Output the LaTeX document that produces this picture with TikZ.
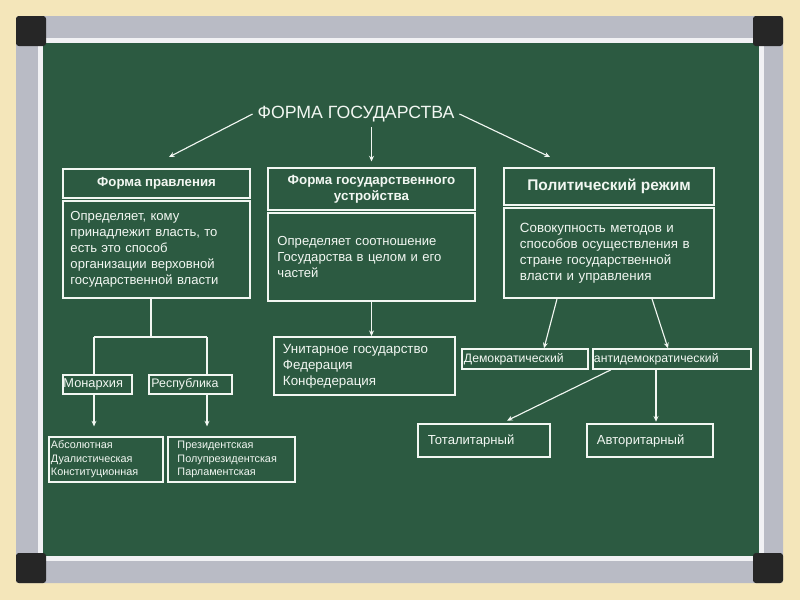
\documentclass[tikz,border=0pt]{standalone}
\usepackage{fontspec}
\setmainfont{Liberation Sans}
\usetikzlibrary{arrows.meta}
\definecolor{board}{HTML}{2C5A41}
\definecolor{cream}{HTML}{F4E6BA}
\definecolor{alu}{HTML}{B9BBC5}
\definecolor{chalk}{HTML}{F2F7F2}

\begin{document}
\begin{tikzpicture}[x=.025cm, y=-.025cm,
	bx/.style={draw=chalk, fill=board, line width=1.3pt, inner sep=0pt, text=chalk, align=left, font=\fontsize{9.3}{11.3}\selectfont},
	hd/.style={bx, align=center, font=\fontsize{9.4}{11.3}\selectfont\bfseries},
	sm/.style={bx, line width=1.1pt, font=\fontsize{7.7}{9.6}\selectfont},
	arr/.style={draw=chalk, line width=.8pt, -{Stealth[length=4pt, width=3.5pt]}},
	ln/.style={draw=chalk, line width=.8pt}]
	% board
	\useasboundingbox (0,0) rectangle (800,600) ;
	\fill[cream] (0,0) rectangle (800,600) ;
	\fill[alu, rounded corners=2pt] (16,16) rectangle (783,583) ;
	\fill[white!80!alu] (38,38) rectangle (764,561) ;
	\fill[board] (43,43) rectangle (759,556) ;
	\fill[black!85, rounded corners=2pt] (16,16) rectangle (46,46) ;
	\fill[black!85, rounded corners=2pt] (753,16) rectangle (783,46) ;
	\fill[black!85, rounded corners=2pt] (16,553) rectangle (46,583) ;
	\fill[black!85, rounded corners=2pt] (753,553) rectangle (783,583) ;

	\node (title)[text=chalk, font=\fontsize{12.6}{15}\selectfont] at (356, 114) {ФОРМА ГОСУДАРСТВА} ;
	\coordinate (pl) at (169, 157) ;
	\coordinate (pr) at (550, 157) ;

	% three columns
	\node (b1head)[hd, minimum width=4.675cm, minimum height=.725cm] at (156.5, 183.5) {Форма правления} ;
	\node (b1body)[bx, text width=4.3cm, minimum width=4.675cm, minimum height=2.425cm] at (156.5, 249.5) {Определяет, кому\\принадлежит власть, то\\есть это способ\\организации верховной\\государственной власти} ;
	\node (b2head)[hd, font=\fontsize{9.5}{11.3}\selectfont\bfseries, minimum width=5.175cm, minimum height=1.05cm] at (371.5, 189) {Форма государственного\\устройства} ;
	\node (b2body)[bx, text width=4.7cm, minimum width=5.175cm, minimum height=2.2cm] at (371.5, 257) {Определяет соотношение\\Государства в целом и его\\частей} ;
	\node (b3head)[hd, font=\fontsize{11}{13}\selectfont\bfseries, minimum width=5.25cm, minimum height=.925cm] at (609, 186.5) {Политический режим} ;
	\node (b3body)[bx, font=\fontsize{9.5}{11.3}\selectfont, text width=4.45cm, minimum width=5.25cm, minimum height=2.25cm] at (609, 253) {Совокупность методов и\\способов осуществления в\\стране государственной\\власти и управления} ;

	% lower boxes
	\node (mon)[sm, font=\fontsize{9.1}{11}\selectfont, text width=1.7cm, minimum width=1.725cm, minimum height=.475cm] at (97.5, 384.5) {Монархия} ;
	\node (rep)[sm, font=\fontsize{8.8}{11}\selectfont, text width=1.95cm, minimum width=2.075cm, minimum height=.475cm] at (190.5, 384.5) {Республика} ;
	\node (abs)[sm, text width=2.75cm, minimum width=2.85cm, minimum height=1.125cm] at (106, 459.5) {Абсолютная\\Дуалистическая\\Конституционная} ;
	\node (pres)[sm, text width=2.7cm, minimum width=3.175cm, minimum height=1.125cm] at (231.5, 459.5) {Президентская\\Полупрезидентская\\Парламентская} ;
	\node (unit)[bx, font=\fontsize{9.5}{11.3}\selectfont, text width=4.075cm, minimum width=4.525cm, minimum height=1.45cm] at (364.5, 366) {Унитарное государство\\Федерация\\Конфедерация} ;
	\node (dem)[sm, font=\fontsize{8.7}{10}\selectfont, text width=3.05cm, minimum width=3.15cm, minimum height=.5cm] at (525, 359) {Демократический} ;
	\node (anti)[sm, font=\fontsize{8.7}{10}\selectfont, text width=3.9cm, minimum width=3.95cm, minimum height=.5cm] at (672, 359) {антидемократический} ;
	\node (tot)[bx, text width=2.8cm, minimum width=3.3cm, minimum height=.825cm] at (484, 440.5) {Тоталитарный} ;
	\node (avt)[bx, text width=2.65cm, minimum width=3.15cm, minimum height=.825cm] at (650, 440.5) {Авторитарный} ;

	\coordinate (j1) at (151, 337) ;
	\coordinate (jm) at (94, 337) ;
	\coordinate (jr) at (207, 337) ;

	\draw[arr] (title.west) -- (pl) ;
	\draw[arr, shorten >=4pt] (title.south -| b2head.north) -- (b2head.north) ;
	\draw[arr] (title.east) -- (pr) ;
	% \draw[arr] (title.east) -- (b3head.north) ;

	\draw[ln] (b1body.south -| j1) -- (j1) ;
	\draw[ln] (jm) -- (jr) ;
	\draw[ln] (jm) -- (jm |- mon.north) ;
	\draw[ln] (jr) -- (jr |- rep.north) ;
	\draw[arr, shorten >=7pt] (jm |- mon.south) -- (jm |- abs.north) ;
	\draw[arr, shorten >=7pt] (jr |- rep.south) -- (jr |- pres.north) ;

	\draw[arr] (b2body.south) -- (b2body.south |- unit.north) ;

	\draw[arr] ([xshift=-1.3cm]b3body.south) -- ([xshift=.475cm]dem.north) ;
	\draw[arr] ([xshift=1.075cm]b3body.south) -- ([xshift=-.1cm]anti.north) ;
	\draw[arr, shorten >=4pt] ([xshift=-1.525cm]anti.south) -- ([xshift=.45cm]tot.north) ;
	\draw[arr, shorten >=1pt] ([xshift=-.4cm]anti.south) -- ([xshift=-.4cm]anti.south |- avt.north) ;
\end{tikzpicture}
\end{document}
